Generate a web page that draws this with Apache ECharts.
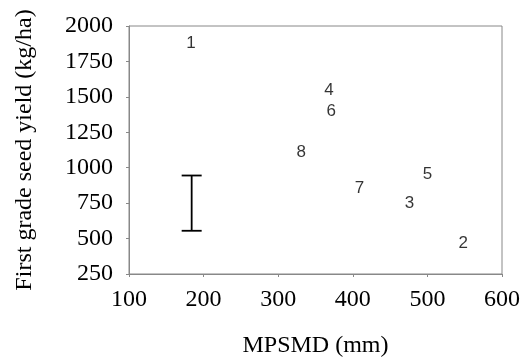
<!DOCTYPE html>
<html>
<head>
<meta charset="utf-8">
<script src="https://cdn.jsdelivr.net/npm/echarts@6/dist/echarts.min.js"></script>
<style>
  html, body { margin: 0; padding: 0; background: #fff; }
  #chart { width: 526px; height: 363px; }
</style>
</head>
<body>
<div id="chart"></div>
<script>
// site labels and their positions (MPSMD mm, yield kg/ha)
const siteLabels = ['1', '2', '3', '4', '5', '6', '7', '8'];
const mpsmd = [183, 548, 476, 368, 500, 371, 409, 331];
const seedYield = [1880, 465, 748, 1548, 955, 1395, 854, 1112];

// error bar (LSD) drawn at left
const errX = [184];
const errLow = [555];
const errHigh = [945];

const xTicks = { min: 100, max: 600, interval: 100 };
const yTicks = { min: 250, max: 2000, interval: 250 };

const serif = '"Liberation Serif", "Times New Roman", serif';
const sans = '"Liberation Sans", Arial, sans-serif';

const chart = echarts.init(document.getElementById('chart'));

chart.setOption({
  animation: false,
  grid: {
    left: 129, right: 24, top: 26, bottom: 89,
    show: true, borderColor: '#888', borderWidth: 1
  },
  xAxis: {
    type: 'value',
    min: xTicks.min, max: xTicks.max, interval: xTicks.interval,
    name: 'MPSMD (mm)',
    nameLocation: 'middle',
    nameGap: 60,
    nameTextStyle: { fontFamily: serif, fontSize: 24, color: '#000' },
    axisLine: { show: true, lineStyle: { color: '#888' } },
    axisTick: { show: true, length: 3, lineStyle: { color: '#888' } },
    axisLabel: { fontFamily: serif, fontSize: 24, color: '#000', margin: 14, formatter: v => String(v) },
    splitLine: { show: false }
  },
  yAxis: {
    type: 'value',
    min: yTicks.min, max: yTicks.max, interval: yTicks.interval,
    name: 'First grade seed yield (kg/ha)',
    nameLocation: 'middle',
    nameGap: 92,
    nameTextStyle: { fontFamily: serif, fontSize: 24, color: '#000' },
    axisLine: { show: true, lineStyle: { color: '#888' } },
    axisTick: { show: true, length: 3, lineStyle: { color: '#888' } },
    axisLabel: { fontFamily: serif, fontSize: 24, color: '#000', margin: 16, formatter: v => String(v) },
    splitLine: { show: false }
  },
  series: [
    {
      type: 'scatter',
      symbolSize: 1,
      itemStyle: { color: 'rgba(0,0,0,0)' },
      label: {
        show: true,
        position: 'inside',
        formatter: p => p.value[2],
        fontFamily: sans,
        fontSize: 17,
        color: '#000'
      },
      data: siteLabels.map((s, i) => [mpsmd[i], seedYield[i], s])
    },
    {
      type: 'custom',
      renderItem: (params, api) => {
        const top = api.coord([api.value(0), api.value(2)]);
        const bot = api.coord([api.value(0), api.value(1)]);
        const hw = 10;
        const style = { stroke: '#000', lineWidth: 1.8 };
        return {
          type: 'group',
          children: [
            { type: 'line', shape: { x1: top[0], y1: top[1], x2: bot[0], y2: bot[1] }, style },
            { type: 'line', shape: { x1: top[0] - hw, y1: top[1], x2: top[0] + hw, y2: top[1] }, style },
            { type: 'line', shape: { x1: bot[0] - hw, y1: bot[1], x2: bot[0] + hw, y2: bot[1] }, style }
          ]
        };
      },
      data: errX.map((x, i) => [x, errLow[i], errHigh[i]])
    }
  ]
});
</script>
</body>
</html>
